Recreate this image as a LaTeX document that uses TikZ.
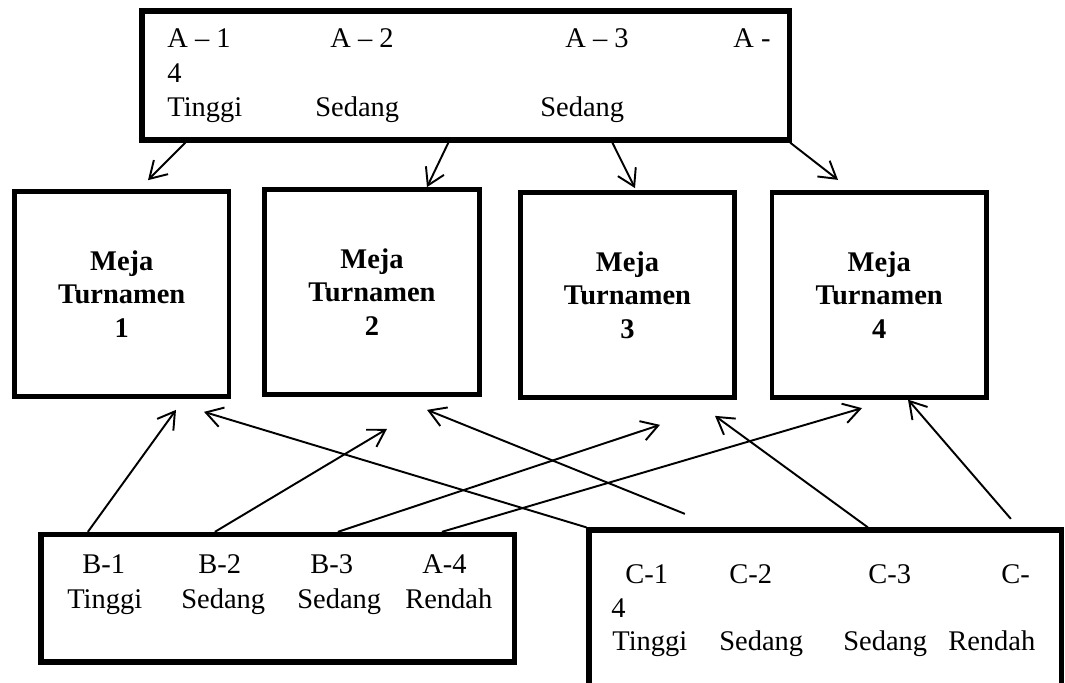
\documentclass[tikz,border=0pt]{standalone}
\usepackage{fontspec}
\setmainfont{Liberation Serif}
\usetikzlibrary{arrows.meta}
\newcommand{\tfont}{\fontsize{16.2}{19}\selectfont}

\begin{document}
\begin{tikzpicture}[
  grp/.style={rectangle, draw=black, line width=3pt, inner sep=0pt},
  meja/.style={rectangle, draw=black, line width=2.7pt,
               minimum width=4.29cm, minimum height=4.1cm,
               align=center, font=\tfont\bfseries, inner sep=0pt},
  lbl/.style={anchor=base west, inner sep=0pt, font=\tfont},
  arr/.style={-{Straight Barb[length=0.33cm, width=0.4cm]}, line width=1.1pt},
]
  \useasboundingbox (0,0) rectangle (21.3,-13.66);

  %% Group A (top)
  \node[grp, minimum width=12.95cm, minimum height=2.58cm] (grpA) at (9.315,-1.51) {};
  \node[lbl] (a1)  at (3.34,-0.96)  {A – 1};
  \node[lbl] (a2)  at (6.60,-0.96)  {A – 2};
  \node[lbl] (a3)  at (11.30,-0.96) {A – 3};
  \node[lbl] (a4)  at (14.66,-0.96) {A -};
  \node[lbl] (a4n) at (3.34,-1.66)  {4};
  \node[lbl] (at1) at (3.34,-2.34)  {Tinggi};
  \node[lbl] (as2) at (6.30,-2.34)  {Sedang};
  \node[lbl] (as3) at (10.80,-2.34) {Sedang};

  %% Tournament tables
  \node[meja] (meja1) at (2.435,-5.88) {Meja\\Turnamen\\1};
  \node[meja] (meja2) at (7.44,-5.84)  {Meja\\Turnamen\\2};
  \node[meja] (meja3) at (12.55,-5.9)  {Meja\\Turnamen\\3};
  \node[meja] (meja4) at (17.585,-5.895) {Meja\\Turnamen\\4};

  %% Group B (bottom left)
  \node[grp, minimum width=9.47cm, minimum height=2.55cm] (grpB) at (5.555,-11.965) {};
  \node[lbl] (b1)  at (1.64,-11.46) {B-1};
  \node[lbl] (b2)  at (3.96,-11.46) {B-2};
  \node[lbl] (b3)  at (6.20,-11.46) {B-3};
  \node[lbl] (b4)  at (8.44,-11.46) {A-4};
  \node[lbl] (bt1) at (1.34,-12.16) {Tinggi};
  \node[lbl] (bs2) at (3.62,-12.16) {Sedang};
  \node[lbl] (bs3) at (5.94,-12.16) {Sedang};
  \node[lbl] (br4) at (8.10,-12.16) {Rendah};

  %% Group C (bottom right)
  \node[grp, minimum width=9.45cm, minimum height=3.8cm] (grpC) at (16.505,-12.5) {};
  \node[lbl] (c1)  at (12.50,-11.66) {C-1};
  \node[lbl] (c2)  at (14.58,-11.66) {C-2};
  \node[lbl] (c3)  at (17.36,-11.66) {C-3};
  \node[lbl] (c4)  at (20.02,-11.66) {C-};
  \node[lbl] (c4n) at (12.22,-12.34) {4};
  \node[lbl] (ct1) at (12.24,-13.00) {Tinggi};
  \node[lbl] (cs2) at (14.38,-13.00) {Sedang};
  \node[lbl] (cs3) at (16.86,-13.00) {Sedang};
  \node[lbl] (cr4) at (18.96,-13.00) {Rendah};

  %% A -> tables
  \draw[arr] ([xshift=0.92cm]grpA.south west) -- ([xshift=0.525cm, yshift=0.18cm]meja1.north);
  \draw[arr] ([xshift=6.18cm]grpA.south west) -- ([xshift=1.1cm]meja2.north);
  \draw[arr] ([xshift=9.46cm]grpA.south west) -- ([xshift=0.15cm, yshift=0.04cm]meja3.north);
  \draw[arr] ([xshift=-0.04cm]grpA.south east) -- ([xshift=-0.825cm, yshift=0.2cm]meja4.north);

  %% B -> tables
  \draw[arr] ([xshift=0.99cm]grpB.north west) -- ([xshift=1.085cm, yshift=-0.22cm]meja1.south);
  \draw[arr] ([xshift=3.53cm]grpB.north west) -- ([xshift=0.3cm, yshift=-0.64cm]meja2.south);
  \draw[arr] ([xshift=5.99cm]grpB.north west) -- ([xshift=0.65cm, yshift=-0.5cm]meja3.south);
  \draw[arr] ([xshift=8.07cm]grpB.north west) -- ([xshift=-0.345cm, yshift=-0.17cm]meja4.south);

  %% C -> tables
  \draw[arr] (grpC.north west) -- ([xshift=1.645cm, yshift=-0.26cm]meja1.south);
  \draw[arr] ([xshift=1.97cm, yshift=0.27cm]grpC.north west) -- ([xshift=1.1cm, yshift=-0.26cm]meja2.south);
  \draw[arr] ([xshift=5.63cm]grpC.north west) -- ([xshift=1.75cm, yshift=-0.32cm]meja3.south);
  \draw[arr] ([xshift=8.49cm, yshift=0.17cm]grpC.north west) -- ([xshift=0.575cm]meja4.south);

\end{tikzpicture}
\end{document}
